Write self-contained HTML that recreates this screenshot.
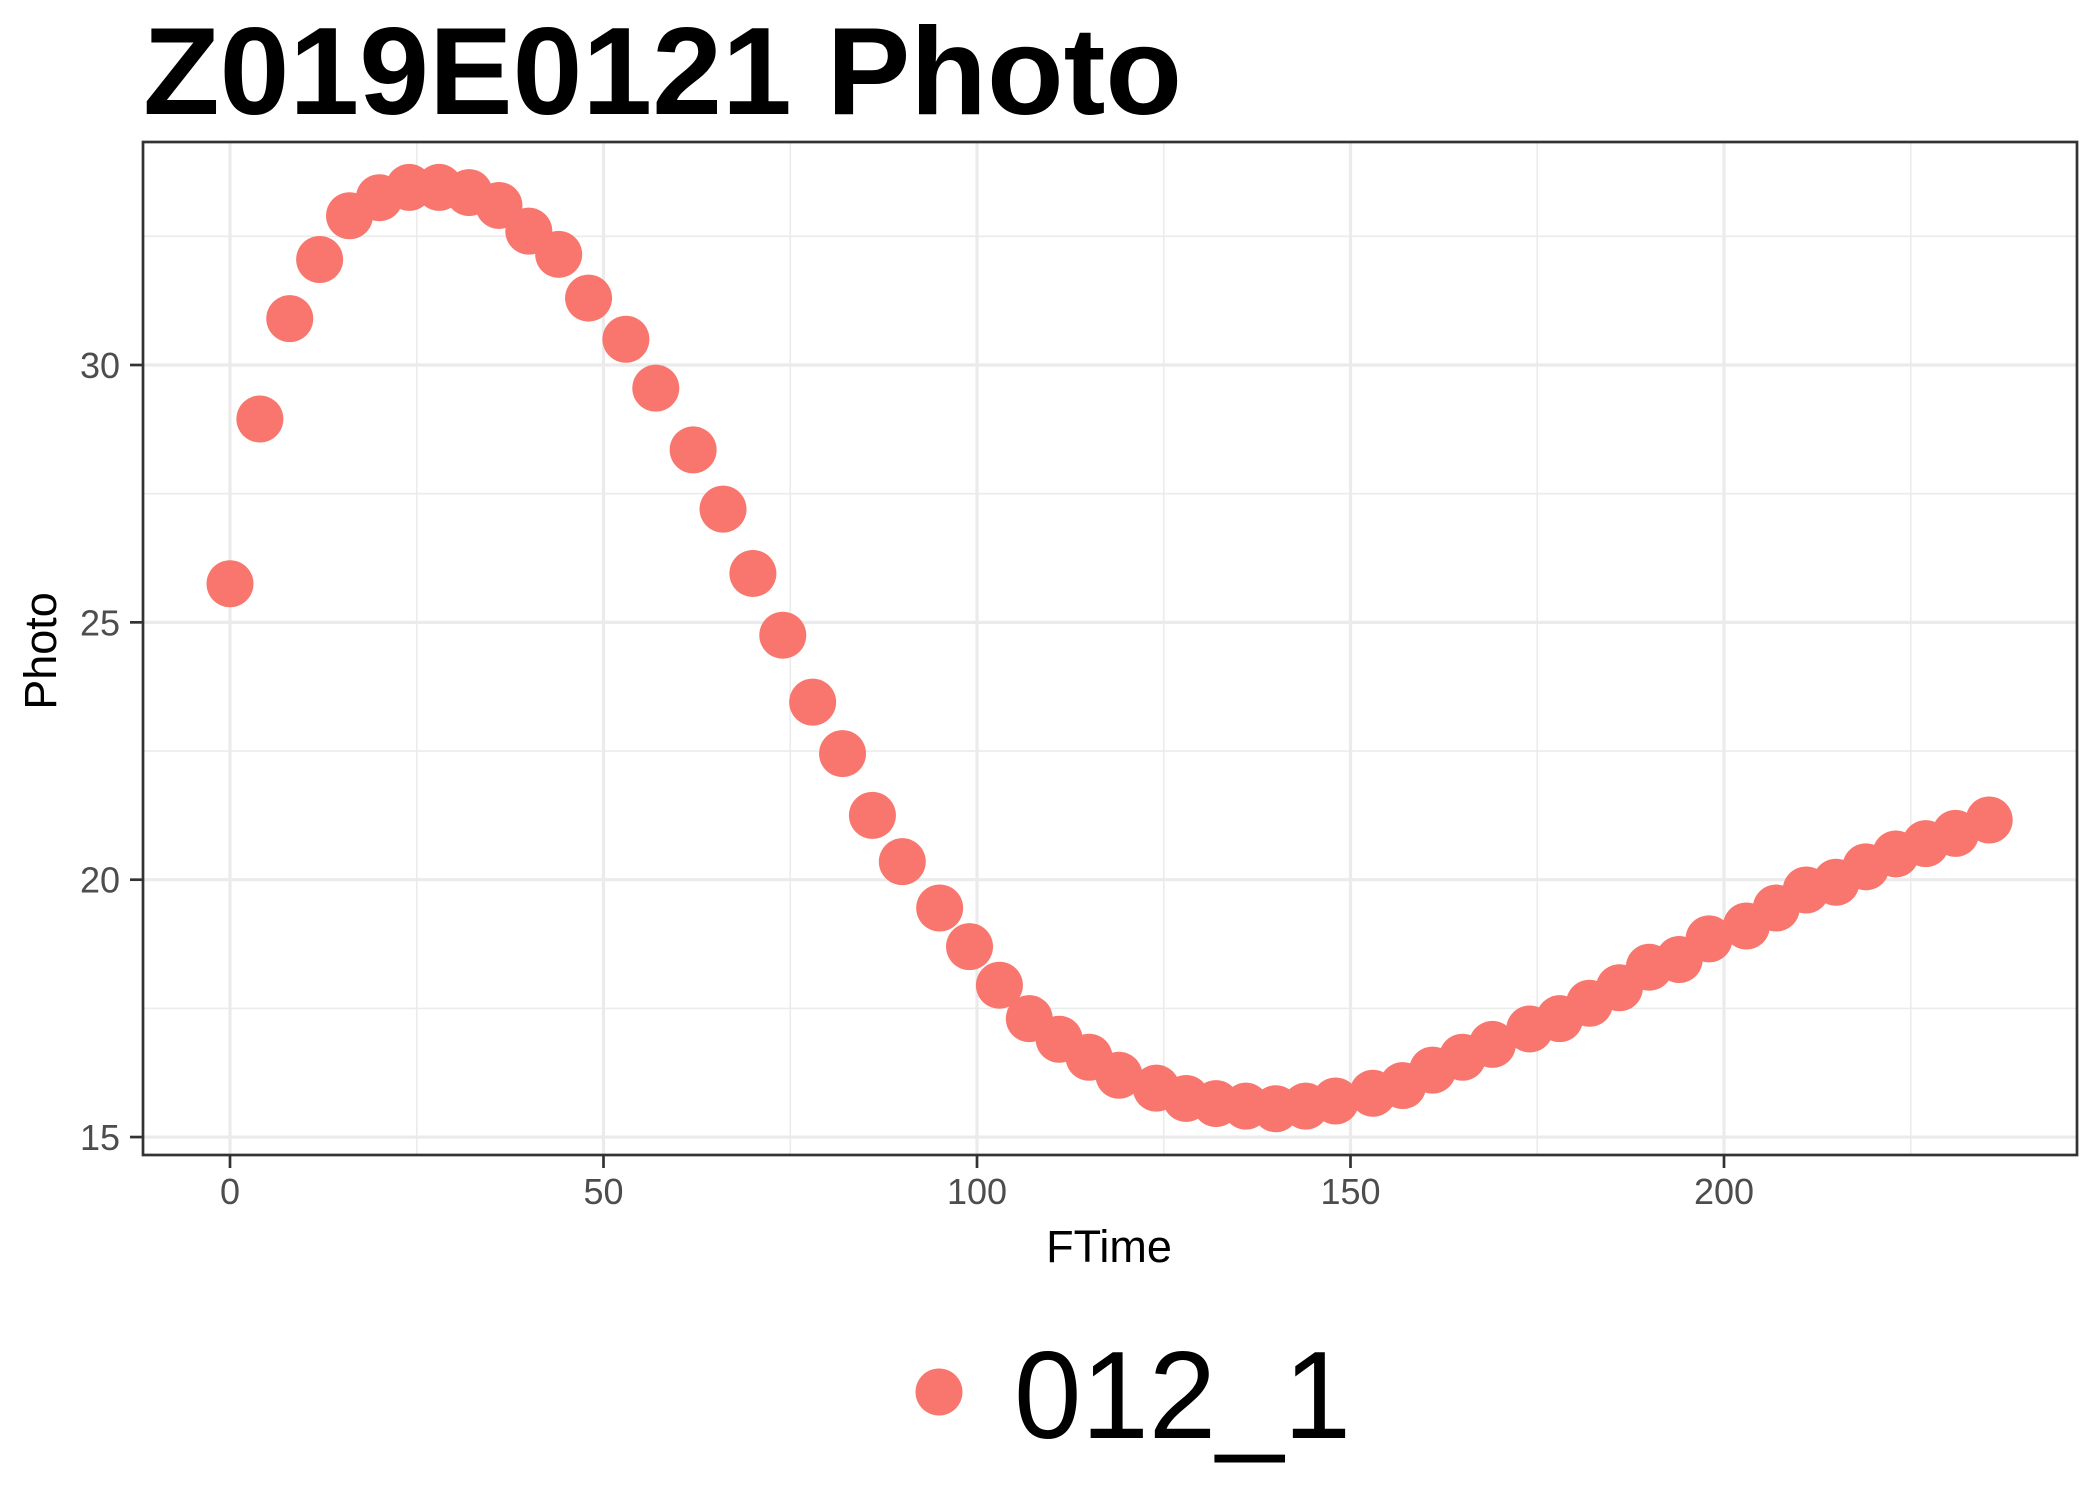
<!DOCTYPE html>
<html><head><meta charset="utf-8"><style>
html,body{margin:0;padding:0;background:#fff}
svg{display:block;font-family:"Liberation Sans",Arial,sans-serif}
</style></head><body>
<svg id="chart" width="2100" height="1499" viewBox="0 0 2100 1499">
<rect width="2100" height="1499" fill="#fff"/>
<text x="143" y="114" font-size="124" font-weight="bold" textLength="1039" lengthAdjust="spacingAndGlyphs">Z019E0121 Photo</text>
<g id="grid"></g>
<g id="points"></g>
<rect x="143" y="142" width="1934" height="1013" fill="none" stroke="#333" stroke-width="2.7"/>
<g id="axes"></g>
<text x="1109" y="1262" font-size="45" text-anchor="middle">FTime</text>
<text transform="translate(56,651) rotate(-90)" font-size="45" text-anchor="middle">Photo</text>
<g>
<circle cx="939" cy="1392" r="23.5" fill="#F8766D"/>
<text x="1014" y="1438" font-size="124" textLength="337" lengthAdjust="spacingAndGlyphs">012_1</text>
</g>
</svg>
<script>
const xValues=[0,4,8,12,16,20,24,28,32,36,40,44,48,53,57,62,66,70,74,78,82,86,90,95,99,103,107,111,115,119,124,128,132,136,140,144,148,153,157,161,165,169,174,178,182,186,190,194,198,203,207,211,215,219,223,227,231,235.5];
const photoValues=[25.75,28.95,30.9,32.05,32.9,33.25,33.45,33.45,33.35,33.1,32.6,32.15,31.3,30.5,29.55,28.35,27.2,25.95,24.75,23.45,22.45,21.25,20.35,19.45,18.7,17.95,17.3,16.9,16.55,16.2,15.95,15.75,15.65,15.6,15.55,15.6,15.7,15.85,16.0,16.3,16.55,16.8,17.1,17.3,17.6,17.9,18.3,18.45,18.85,19.1,19.45,19.8,19.95,20.25,20.5,20.7,20.9,21.16];
const xTicks=[0,50,100,150,200];
const yTicks=[15,20,25,30];
const xMinor=[25,75,125,175,225];
const yMinor=[17.5,22.5,27.5,32.5];

const NS='http://www.w3.org/2000/svg';
const X0=143,X1=2077,Y0=142,Y1=1155;
const sx=v=>230+v*7.47;
const sy=v=>365-(v-30)*51.47;
function mk(tag,attrs,parent){const e=document.createElementNS(NS,tag);for(const k in attrs)e.setAttribute(k,attrs[k]);parent.appendChild(e);return e;}
const grid=document.getElementById('grid'),pts=document.getElementById('points'),axes=document.getElementById('axes');
xMinor.forEach(v=>{const l=mk('line',{x1:sx(v),x2:sx(v),y1:Y0,y2:Y1,stroke:'#ebebeb','stroke-width':1.6},grid);

});
yMinor.forEach(v=>{const l=mk('line',{x1:X0,x2:X1,y1:sy(v),y2:sy(v),stroke:'#ebebeb','stroke-width':1.6},grid);

});
xTicks.forEach(v=>{const l=mk('line',{x1:sx(v),x2:sx(v),y1:Y0,y2:Y1,stroke:'#ebebeb','stroke-width':3.2},grid);


const t=mk('line',{x1:sx(v),x2:sx(v),y1:Y1,y2:Y1+13,stroke:'#333','stroke-width':2.7},axes);


const tx=mk('text',{x:sx(v),y:1204,'font-size':36,fill:'#4d4d4d','text-anchor':'middle'},axes);tx.textContent=v;

});
yTicks.forEach(v=>{const l=mk('line',{x1:X0,x2:X1,y1:sy(v),y2:sy(v),stroke:'#ebebeb','stroke-width':3.2},grid);


const t=mk('line',{x1:X0-13,x2:X0,y1:sy(v),y2:sy(v),stroke:'#333','stroke-width':2.7},axes);


const tx=mk('text',{x:120,y:sy(v)+13,'font-size':36,fill:'#4d4d4d','text-anchor':'end'},axes);tx.textContent=v;

});
xValues.forEach((v,i)=>{const c=mk('circle',{cx:sx(v),cy:sy(photoValues[i]),r:23.5,fill:'#F8766D'},pts);

});
</script>
</body></html>
